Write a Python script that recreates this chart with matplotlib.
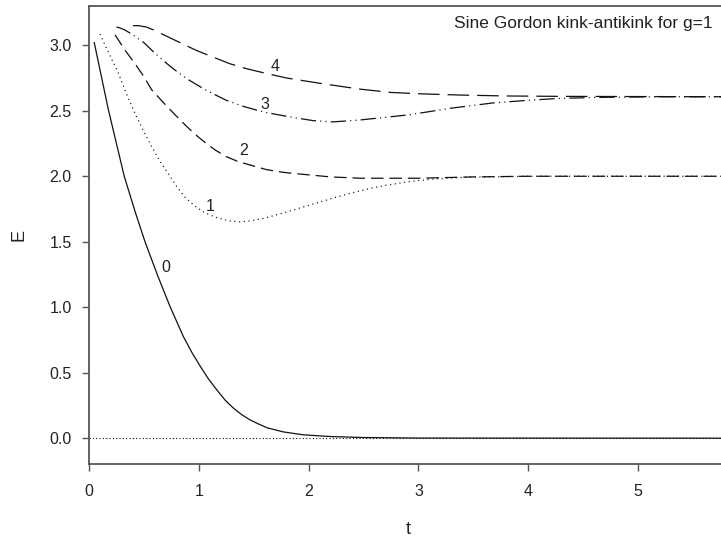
import matplotlib
matplotlib.use("Agg")
import matplotlib.pyplot as plt

plt.rcParams['font.family'] = ['Liberation Sans', 'DejaVu Sans']
plt.rcParams['lines.scale_dashes'] = False

# Curve 0 (solid)
t0 = [0.048, 0.176, 0.321, 0.42, 0.51, 0.626, 0.738, 0.86, 0.94, 1.02, 1.09, 1.163, 1.24, 1.315, 1.39, 1.466, 1.54, 1.62, 1.77, 1.95, 2.19, 2.50, 3.00, 5.81]
e0 = [3.02, 2.51, 2.00, 1.73, 1.50, 1.24, 1.005, 0.775, 0.65, 0.54, 0.45, 0.37, 0.29, 0.23, 0.18, 0.14, 0.11, 0.08, 0.048, 0.026, 0.013, 0.005, 0.001, 0.0]
# Curve 1 (dotted)
t1 = [0.10, 0.18, 0.267, 0.34, 0.419, 0.50, 0.571, 0.65, 0.722, 0.80, 0.874, 0.96, 1.056, 1.16, 1.27, 1.375, 1.48, 1.60, 1.77, 1.93, 2.07, 2.23, 2.38, 2.55, 2.70, 2.92, 3.15, 3.45, 4.00, 5.81]
e1 = [3.086, 2.94, 2.79, 2.63, 2.48, 2.34, 2.226, 2.11, 2.02, 1.92, 1.84, 1.775, 1.72, 1.685, 1.66, 1.652, 1.66, 1.68, 1.72, 1.76, 1.795, 1.835, 1.87, 1.905, 1.93, 1.96, 1.98, 1.993, 2.0, 2.0]
# Curve 2 (dashed)
t2 = [0.237, 0.33, 0.419, 0.50, 0.571, 0.68, 0.783, 0.89, 0.995, 1.07, 1.15, 1.25, 1.35, 1.466, 1.62, 1.77, 1.92, 2.20, 2.47, 3.00, 3.50, 4.00, 5.81]
e2 = [3.08, 2.96, 2.86, 2.76, 2.66, 2.56, 2.47, 2.38, 2.30, 2.25, 2.20, 2.15, 2.115, 2.086, 2.05, 2.03, 2.017, 1.995, 1.985, 1.985, 1.995, 2.0, 2.0]
# Curve 3 (dash-dot-dot)
t3 = [0.25, 0.29, 0.33, 0.40, 0.50, 0.60, 0.71, 0.80, 0.90, 1.07, 1.25, 1.40, 1.59, 1.85, 2.04, 2.22, 2.47, 2.70, 2.92, 3.30, 3.68, 4.00, 4.29, 4.70, 5.20, 5.81]
e3 = [3.14, 3.13, 3.115, 3.08, 3.02, 2.94, 2.86, 2.80, 2.74, 2.655, 2.58, 2.535, 2.49, 2.45, 2.425, 2.415, 2.43, 2.45, 2.47, 2.52, 2.56, 2.58, 2.595, 2.603, 2.607, 2.607]
# Curve 4 (long dash)
t4 = [0.40, 0.45, 0.52, 0.58, 0.68, 0.78, 0.88, 0.98, 1.13, 1.28, 1.44, 1.59, 1.80, 2.10, 2.47, 2.75, 3.00, 3.38, 3.80, 4.29, 5.81]
e4 = [3.15, 3.15, 3.14, 3.12, 3.08, 3.04, 3.00, 2.96, 2.91, 2.86, 2.82, 2.79, 2.75, 2.71, 2.665, 2.64, 2.63, 2.62, 2.613, 2.61, 2.607]

labels = ['0', '1', '2', '3', '4']
label_t = [0.70, 1.10, 1.41, 1.60, 1.695]
label_e = [1.30, 1.77, 2.20, 2.55, 2.84]

xticks = [0, 1, 2, 3, 4, 5]
yticks = [0.0, 0.5, 1.0, 1.5, 2.0, 2.5, 3.0]

fig = plt.figure(figsize=(7.21, 5.37), dpi=100)
ax = fig.add_axes([89/721, 73/537, (727-89)/721, 458/537])

lw = 0.9
c = '#111111'
ax.axhline(0.0, color=c, lw=0.8, linestyle=(0, (0.8, 1.6)))
ax.plot(t0, e0, color=c, lw=lw, linestyle='-')
ax.plot(t1, e1, color=c, lw=lw, linestyle=(0, (0.8, 2.6)))
ax.plot(t2, e2, color=c, lw=lw, linestyle=(0, (9, 4.3)))
ax.plot(t3, e3, color=c, lw=lw, linestyle=(0, (11, 3, 0.8, 3, 0.8, 3)))
ax.plot(t4, e4, color=c, lw=lw, linestyle=(0, (15.5, 5.8)))

for lab, tx, ey in zip(labels, label_t, label_e):
    ax.text(tx, ey, lab, fontsize=11.5, color='#222222', ha='center', va='center')

ax.text(0.978, 0.962, 'Sine Gordon kink-antikink for g=1', transform=ax.transAxes,
        ha='right', va='center', fontsize=12.5, color='#222222')

ax.set_xlim(0, 5.81)
ax.set_ylim(-0.197, 3.30)
ax.set_xticks(xticks)
ax.set_xticklabels([str(v) for v in xticks])
ax.set_yticks(yticks)
ax.set_yticklabels([f'{v:.1f}' for v in yticks])

spine_c = '#555555'
for s in ['left', 'bottom', 'top', 'right']:
    ax.spines[s].set_color(spine_c)
    ax.spines[s].set_linewidth(1.3)
ax.tick_params(axis='both', direction='out', length=4.8, width=1.0, color=spine_c,
               labelsize=11.5, labelcolor='#222222')
ax.tick_params(axis='x', pad=9.5)
ax.tick_params(axis='y', pad=7.6)

ax.set_xlabel('t', fontsize=13, color='#222222', labelpad=16)
ax.set_ylabel('E', fontsize=13, color='#222222', labelpad=16)

fig.savefig('out.png', dpi=100)
